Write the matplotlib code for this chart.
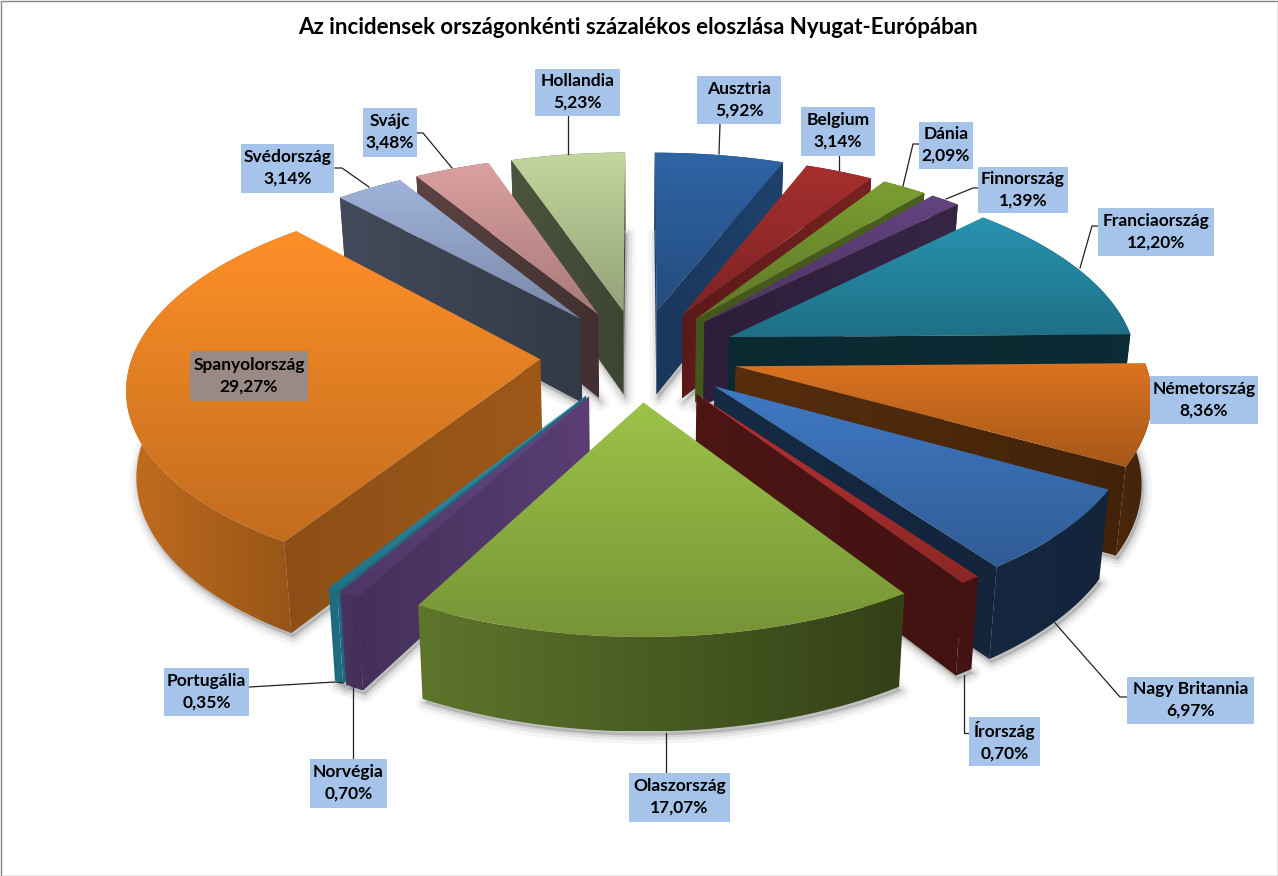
import numpy as np
import matplotlib
matplotlib.use("Agg")
from matplotlib import pyplot as plt
from matplotlib.colors import to_rgb
from matplotlib.patches import Polygon, Rectangle

plt.rcParams['font.family'] = ['Lato', 'DejaVu Sans']

title = "Az incidensek országonkénti százalékos eloszlása Nyugat-Európában"
countries = ["Ausztria", "Belgium", "Dánia", "Finnország", "Franciaország", "Németország",
             "Nagy Britannia", "Írország", "Olaszország", "Norvégia", "Portugália",
             "Spanyolország", "Svédország", "Svájc", "Hollandia"]
shares = [5.92, 3.14, 2.09, 1.39, 12.20, 8.36, 6.97, 0.70, 17.07, 0.70, 0.35, 29.27, 3.14, 3.48, 5.23]

colors = ["#2F64A6", "#A52F2E", "#7B9E33", "#64437F", "#2893B0", "#DB7320", "#3F79C4", "#B73331",
          "#9CC348", "#674786", "#2A96B4", "#FF8F28", "#9FB3DA", "#DBA09F", "#C3D69E"]
# brightness of the sides, left end and right end
wall_shade = [(.55, .65), (.55, .72), (.55, .6), (.45, .55), (.28, .3), (.4, .3), (.35, .3), (.42, .36),
              (.5, .5), (.67, .87), (.7, .7), (.55, .62), (.42, .32), (.42, .3), (.39, .32)]
outer_shade = [(.6, .6), (.6, .6), (.6, .6), (.5, .5), (.3, .3), (.35, .3), (.33, .3), (.38, .36),
               (.6, .33), (.72, .65), (.72, .72), (.76, .58), (.4, .4), (.4, .4), (.4, .4)]

# label box (left, top, right, bottom) and leader line in pixels
label_boxes = [(697, 76, 781, 124), (801, 107, 875, 156), (919, 122, 973, 169), (978, 167, 1068, 213),
               (1098, 208, 1214, 256), (1150, 376, 1258, 424), (1127, 677, 1254, 724), (969, 717, 1040, 766),
               (629, 773, 730, 822), (310, 759, 387, 808), (164, 668, 249, 716), (190, 351, 308, 401),
               (241, 144, 334, 193), (363, 108, 417, 157), (535, 69, 620, 116)]
leaders = [[(720, 124), (719, 154)], [(839, 156), (839, 170)], [(919, 144), (913, 144), (903, 186)],
           [(979, 188), (973, 188), (946, 199)], [(1098, 226), (1092, 226), (1080, 268)], [],
           [(1127, 697), (1120, 697), (1055, 623)], [(969, 733), (964, 733), (964, 675)], [(666, 773), (666, 733)],
           [(353, 759), (353, 687)], [(249, 687), (335, 682), (343, 683)], [],
           [(335, 168), (342, 168), (369, 187)], [(417, 133), (423, 133), (452, 168)], [(568, 116), (568, 154)]]

# camera
CX, CY = 639, 355
XS = 0.987
R, EXPLODE = 413, 100
K, P = 0.46, 0.000318
H, TAPER = 85, 0.98

fig = plt.figure(figsize=(12.78, 8.76), dpi=100)
ax = fig.add_axes([0, 0, 1, 1])


def project(X, Y):
    f = 1 / (1 + P * Y)
    return CX + XS * X * f, CY - K * Y * f, f


def drop(sx, sy, f):
    return CX + (sx - CX) * TAPER, sy + H * f ** 0.6


def gradient_poly(pts, c, s0, s1, vertical=False, z=2):
    """Fills a polygon with a colour going from brightness s0 to s1."""
    pts = np.array(pts)
    x0, y0 = pts.min(axis=0)
    x1, y1 = pts.max(axis=0)
    t = np.linspace(s0, s1, 64)
    rgb = np.outer(t, to_rgb(c)).clip(0, 1)
    img = rgb[:, None, :] if vertical else rgb[None, :, :]
    poly = Polygon(pts, closed=True, transform=ax.transData, fc="none", ec="none")
    ax.add_patch(poly)
    im = ax.imshow(img, extent=(x0, x1, y1, y0), aspect="auto", zorder=z, interpolation="bilinear")
    im.set_clip_path(poly)


def slice_faces(i, start, end):
    mid = (start + end) / 2
    ex, ey = EXPLODE * np.sin(mid), EXPLODE * np.cos(mid)
    th = np.linspace(start, end, max(int((end - start) * 40), 3))
    arc = [project(ex + R * np.sin(t), ey + R * np.cos(t)) for t in th]
    apex = project(ex, ey)
    arc_low = [drop(*p) for p in arc]
    apex_low = drop(*apex)
    return [p[:2] for p in arc], arc_low, apex[:2], apex_low


def wall_visible(a, c, inner):
    a, c, inner = map(np.array, (a, c, inner))
    n = np.array([-(c[1] - a[1]), c[0] - a[0]])
    if np.dot(n, inner - a) > 0:
        n = -n
    return n[1] > 0


fracs = np.array(shares) / sum(shares)
edges = np.concatenate([[0], np.cumsum(fracs)]) * 2 * np.pi
slices = [slice_faces(i, edges[i], edges[i + 1]) for i in range(len(shares))]
order = sorted(range(len(shares)), key=lambda i: -np.cos((edges[i] + edges[i + 1]) / 2))

# soft shadow under the slices
for arc, arc_low, apex, apex_low in slices:
    low = np.array(arc_low + [apex_low]) + [2, 4]
    for lw, a in [(12, .06), (7, .09), (3, .12)]:
        ax.add_patch(Polygon(low, closed=True, fc="#555555", ec="#555555", lw=lw, alpha=a, zorder=1, joinstyle="round"))

z = 2
for i in order:
    arc, arc_low, apex, apex_low = slices[i]
    c = colors[i]
    gradient_poly(arc + arc_low[::-1], c, *outer_shade[i], z=z)
    inner = arc[len(arc) // 2]
    for corner, corner_low in [(arc[0], arc_low[0]), (arc[-1], arc_low[-1])]:
        if wall_visible(apex, corner, inner):
            gradient_poly([apex, corner, corner_low, apex_low], c, *wall_shade[i], z=z + 0.1)
    gradient_poly(arc + [apex], c, 1.0, 0.76, vertical=True, z=z + 0.2)
    z += 1

for i, name in enumerate(countries):
    x0, y0, x1, y1 = label_boxes[i]
    if leaders[i]:
        xs, ys = zip(*leaders[i])
        ax.plot(xs, ys, color="#222222", lw=0.9, zorder=40)
    box_color = "#9A8A85" if name == "Spanyolország" else "#A6C4E9"
    ax.add_patch(Rectangle((x0, y0), x1 - x0, y1 - y0, fc=box_color, ec="none", zorder=41))
    pct = f"{shares[i]:.2f}%".replace(".", ",")
    ax.text((x0 + x1) / 2, (y0 + y1) / 2 - 0.5, name + "\n" + pct, ha="center", va="center", fontsize=12.5,
            fontweight="bold", color="black", linespacing=1.42, zorder=42)

ax.text(638, 27, title, ha="center", va="center", fontsize=16, fontweight="bold", color="black", zorder=42)
ax.add_patch(Rectangle((0.5, 0.5), 1277, 875, fc="none", ec="#868686", lw=1, zorder=50))

ax.set_xlim(0, 1278)
ax.set_ylim(876, 0)
ax.set_axis_off()
fig.savefig("out.png", dpi=100, facecolor="white")
